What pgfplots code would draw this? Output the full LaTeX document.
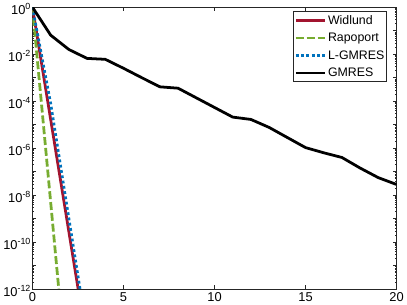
\documentclass[border=0pt]{standalone}
\usepackage{fontspec}
\setmainfont{Liberation Sans}
\usepackage{pgfplots}
\pgfplotsset{compat=1.18}
\definecolor{wred}{RGB}{162,20,47}
\definecolor{rgreen}{RGB}{119,172,48}
\definecolor{lblue}{RGB}{0,114,189}
\definecolor{axgray}{RGB}{38,38,38}
\newcommand{\tp}[1]{10\raisebox{5.5pt}{\fontsize{9}{10}\selectfont #1}}
\begin{document}
\begin{tikzpicture}
\begin{axis}[
  scale only axis, width=367bp, height=284bp,
  ymode=log, xmin=0, xmax=20, ymin=1e-12, ymax=1,
  xtick={0,5,10,15,20},
  ytick={1e-12,1e-11,1e-10,1e-9,1e-8,1e-7,1e-6,1e-5,1e-4,1e-3,1e-2,1e-1,1},
  yticklabels={\tp{-12},,\tp{-10},,\tp{-8},,\tp{-6},,\tp{-4},,\tp{-2},,\tp{0}},
  tick align=inside, major tick length=4bp, minor tick length=2bp,
  tick style={color=axgray, line width=0.4pt},
  axis line style={axgray, line width=0.5pt},
  /pgf/number format/assume math mode=true,
  ticklabel style={font=\fontsize{13}{15}\selectfont, text=black},
  yticklabel style={xshift=1.5pt, yshift=-2pt},
  legend cell align=left,
  legend style={draw=axgray, line width=0.5pt, at={(rel axis cs:0.973,0.985)}, anchor=north east,
    font=\fontsize{12.5}{15}\selectfont, row sep=3.5pt, inner sep=1.5pt, inner xsep=1pt,
    nodes={inner xsep=1.2pt}},
  legend image code/.code={\draw[#1] (0pt,0pt) -- (30pt,0pt);},
]
\addplot[wred, line width=2.8pt, line cap=butt] coordinates {(0,1) (1,1.66e-5) (2,2.75e-10) (3,4.6e-15)};
\addlegendentry{Widlund}
\addplot[rgreen, line width=2.8pt, line cap=butt, dash pattern=on 8pt off 3pt] coordinates {(0,1) (1,5.0e-9) (2,2.5e-17)};
\addlegendentry{Rapoport}
\addplot[lblue, line width=2.8pt, line cap=butt, dash pattern=on 2.8pt off 2.6pt] coordinates {(0,1) (1,7.94e-5) (2,1e-9) (3,1.26e-14)};
\addlegendentry{L-GMRES}
\addplot[black, line width=2.8pt, line join=round] coordinates {
(0,1) (1,6.46e-2) (2,1.58e-2) (3,6.61e-3) (4,6.03e-3) (5,2.51e-3) (6,1e-3) (7,4.07e-4) (8,3.55e-4) (9,1.38e-4) (10,5.37e-5) (11,2.09e-5) (12,1.66e-5) (13,7.59e-6) (14,2.82e-6) (15,1.05e-6) (16,6.31e-7) (17,3.98e-7) (18,1.41e-7) (19,5.5e-8) (20,2.82e-8)};
\addlegendentry{GMRES}
\end{axis}
\end{tikzpicture}
\end{document}
